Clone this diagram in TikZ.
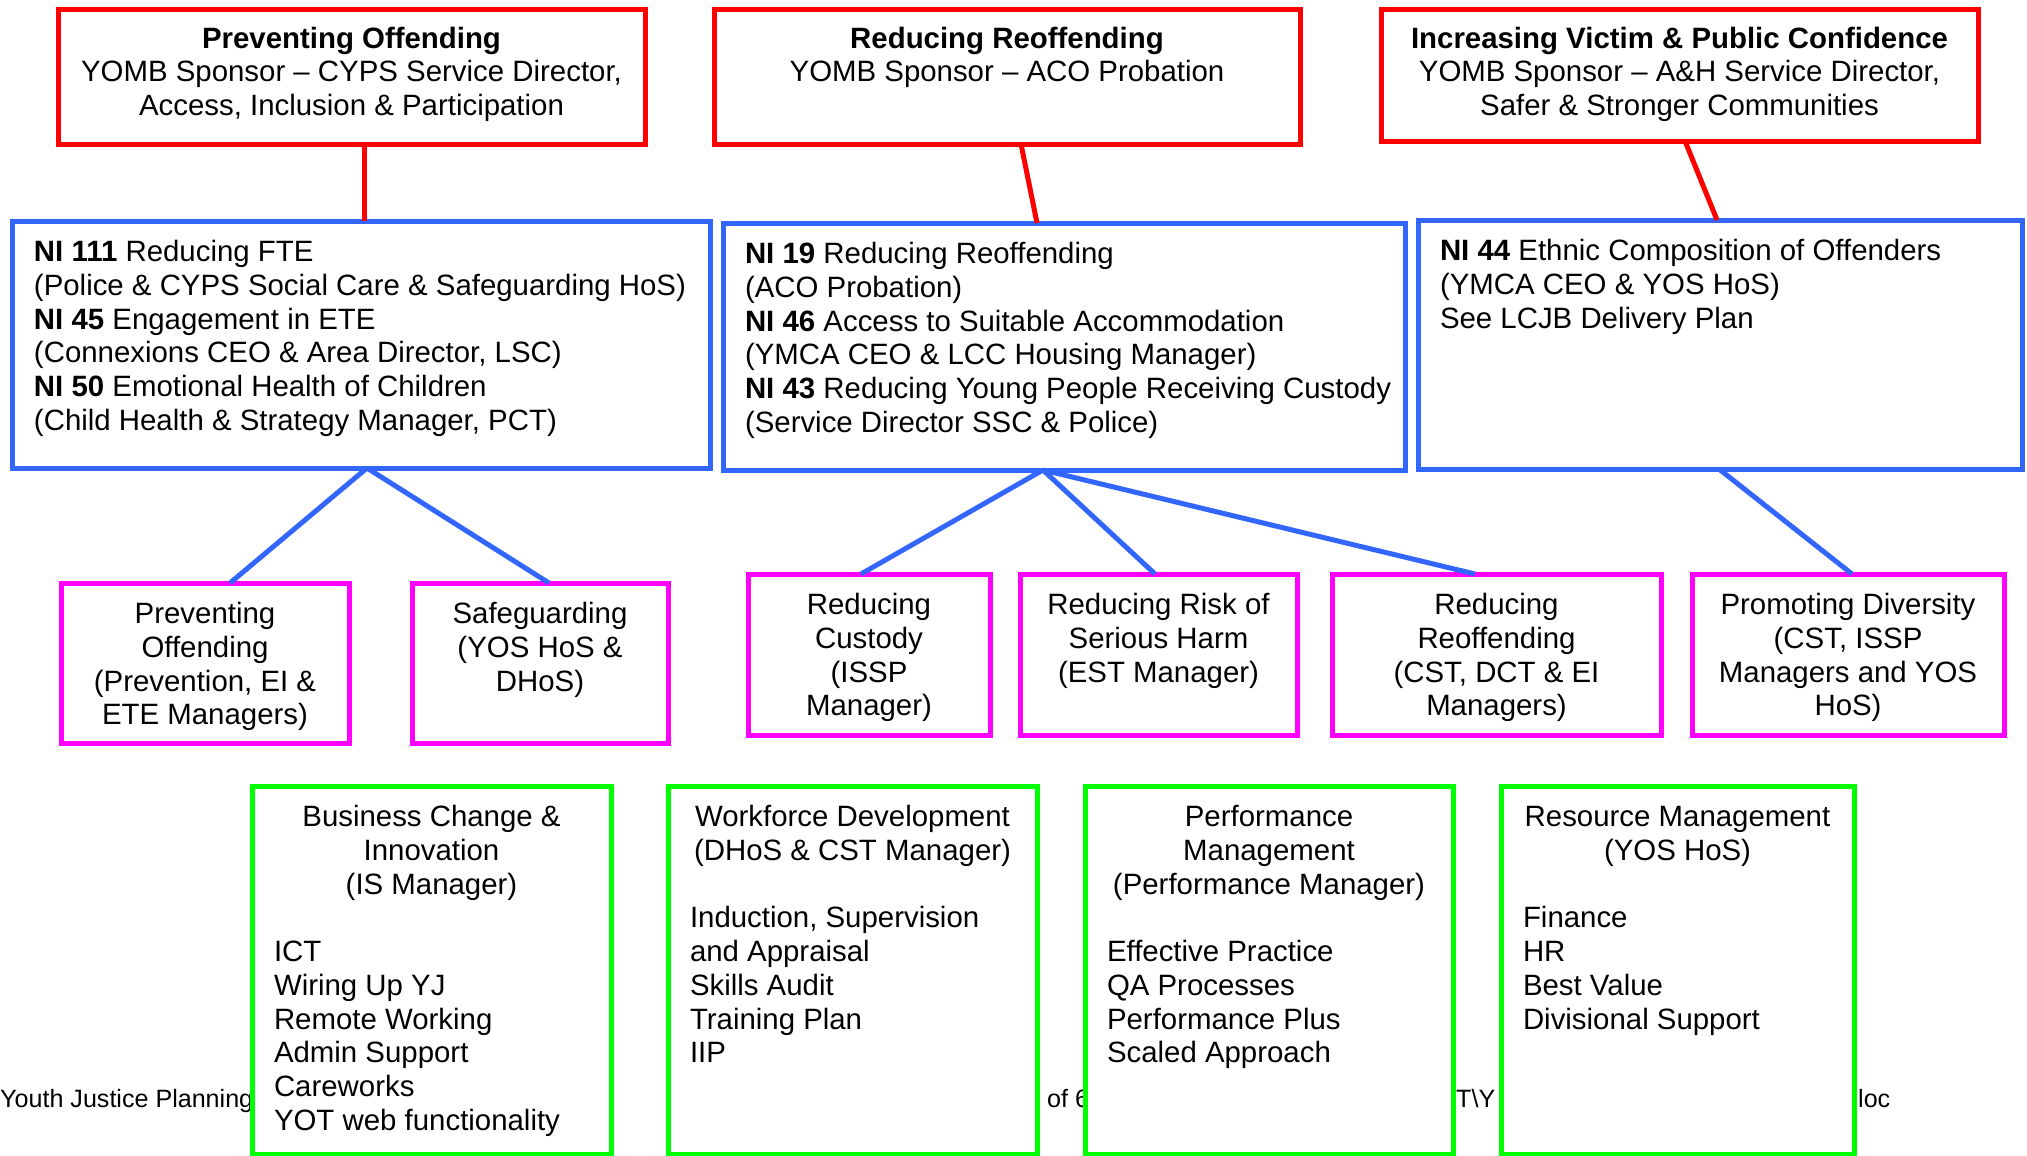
\documentclass[tikz,border=0pt]{standalone}
\usepackage{fontspec}
\setmainfont{Liberation Sans}
\usepackage[]{xcolor}
\definecolor{sponsorred}{RGB}{255,0,0}
\definecolor{niblue}{RGB}{51,102,255}
\definecolor{teampink}{RGB}{255,0,255}
\definecolor{supportgreen}{RGB}{0,255,0}
\hfuzz=20pt
\newcommand{\boxtext}[3]{\parbox[t][#2][t]{#1}{\strut#3}}
\tikzset{
  frame/.style={draw, rectangle, fill=white, line width=5pt, anchor=north west,
    outer sep=0pt, inner xsep=22pt, inner ysep=17pt},
  sponsor/.style={frame, draw=sponsorred, inner ysep=14.5pt},
  indicator/.style={frame, draw=niblue},
  team/.style={frame, draw=teampink},
  support/.style={frame, draw=supportgreen},
  redlink/.style={draw=sponsorred, line width=5pt},
  bluelink/.style={draw=niblue, line width=5pt},
  footer/.style={inner sep=0pt, anchor=base west, font=\fontsize{25.1}{28}\selectfont}
}

\begin{document}
\begin{tikzpicture}[x=1pt, y=-1pt, font=\fontsize{29.4}{33.75}\selectfont]
\useasboundingbox (0,0) rectangle (2027,1156);

% page footer, mostly hidden behind the green boxes
\node [footer] (fa) at (0,1107) {Youth Justice Planning};
\node [footer] (fb) at (1047,1107) {of 6};
\node [footer] (fc) at (1456,1107) {T\textbackslash Y};
\node [footer] (fd) at (1858,1107) {loc};

% sponsors
\node [sponsor] (po) at (58,10) {\boxtext{543pt}{105pt}{\centering \textbf{Preventing Offending}\\
  YOMB Sponsor – CYPS Service Director,\\ Access, Inclusion \& Participation}};
\node [sponsor] (rr) at (714,10) {\boxtext{542pt}{105pt}{\centering \textbf{Reducing Reoffending}\\
  YOMB Sponsor – ACO Probation}};
\node [sponsor] (vc) at (1381,10) {\boxtext{553pt}{102pt}{\centering \textbf{Increasing Victim \& Public Confidence}\\
  YOMB Sponsor – A\&H Service Director,\\ Safer \& Stronger Communities}};

% national indicators
\node [indicator] (poNI) at (12,221) {\boxtext{654pt}{213pt}{\raggedright
  \textbf{NI 111} Reducing FTE\\ (Police \& CYPS Social Care \& Safeguarding HoS)\\
  \textbf{NI 45} Engagement in ETE\\ (Connexions CEO \& Area Director, LSC)\\
  \textbf{NI 50} Emotional Health of Children\\ (Child Health \& Strategy Manager, PCT)}};
\node [indicator] (rrNI) at (723,223) {\boxtext{638pt}{213pt}{\raggedright
  \textbf{NI 19} Reducing Reoffending\\ (ACO Probation)\\
  \textbf{NI 46} Access to Suitable Accommodation\\ (YMCA CEO \& LCC Housing Manager)\\
  \mbox{\textbf{NI 43} Reducing Young People Receiving Custody}\\ (Service Director SSC \& Police)}};
\node [indicator] (vcNI) at (1418,220) {\boxtext{560pt}{215pt}{\raggedright
  \textbf{NI 44} Ethnic Composition of Offenders\\ (YMCA CEO \& YOS HoS)\\ See LCJB Delivery Plan}};

% teams
\node [team] (prev) at (61,583) {\boxtext{244pt}{126pt}{\centering Preventing\\ Offending\\ (Prevention, EI \&\\ ETE Managers)}};
\node [team] (safe) at (412,583) {\boxtext{212pt}{126pt}{\centering Safeguarding\\ (YOS HoS \&\\ DHoS)}};
\node [team] (cust) at (748,574) {\boxtext{198pt}{127pt}{\centering Reducing\\ Custody\\ (ISSP\\ Manager)}};
\node [team] (harm) at (1020,574) {\boxtext{233pt}{127pt}{\centering Reducing Risk of\\ Serious Harm\\ (EST Manager)}};
\node [team] (reoff) at (1332,574) {\boxtext{285pt}{127pt}{\centering Reducing\\ Reoffending\\ (CST, DCT \& EI\\ Managers)}};
\node [team] (div) at (1692,574) {\boxtext{268pt}{127pt}{\centering Promoting Diversity\\ (CST, ISSP\\ Managers and YOS\\ HoS)}};

% support functions
\node [support] (bci) at (252,786) {\boxtext{315pt}{334pt}{\centering Business Change \&\\ Innovation\\ (IS Manager)\par
  \raggedright\vskip\baselineskip ICT\\ Wiring Up YJ\\ Remote Working\\ Admin Support\\ Careworks\\ YOT web functionality}};
\node [support] (wfd) at (668,786) {\boxtext{325pt}{334pt}{\centering Workforce Development\\ (DHoS \& CST Manager)\par
  \raggedright\vskip\baselineskip Induction, Supervision\\ and Appraisal\\ Skills Audit\\ Training Plan\\ IIP}};
\node [support] (perf) at (1085,786) {\boxtext{324pt}{334pt}{\centering Performance\\ Management\\ (Performance Manager)\par
  \raggedright\vskip\baselineskip Effective Practice\\ QA Processes\\ Performance Plus\\ Scaled Approach}};
\node [support] (res) at (1501,786) {\boxtext{309pt}{334pt}{\centering Resource Management\\ (YOS HoS)\par
  \raggedright\vskip\baselineskip Finance\\ HR\\ Best Value\\ Divisional Support}};

% links
\draw [redlink] ([xshift=12.5]po.south) -- ([xshift=3]poNI.north);
\draw [redlink] ([xshift=14]rr.south) -- ([xshift=-27]rrNI.north);
\draw [redlink] ([xshift=5.5]vc.south) -- ([xshift=-3]vcNI.north);
\foreach \t/\s in {prev/25, safe/9}
  \draw [bluelink] ([xshift=6]poNI.south) -- ([xshift=\s]\t.north);
\foreach \t/\s in {cust/-8, harm/-3.5, reoff/-21.5}
  \draw [bluelink] ([xshift=-21]rrNI.south) -- ([xshift=\s]\t.north);
\draw [bluelink] ([xshift=-1]vcNI.south) -- ([xshift=4]div.north);
\end{tikzpicture}
\end{document}
